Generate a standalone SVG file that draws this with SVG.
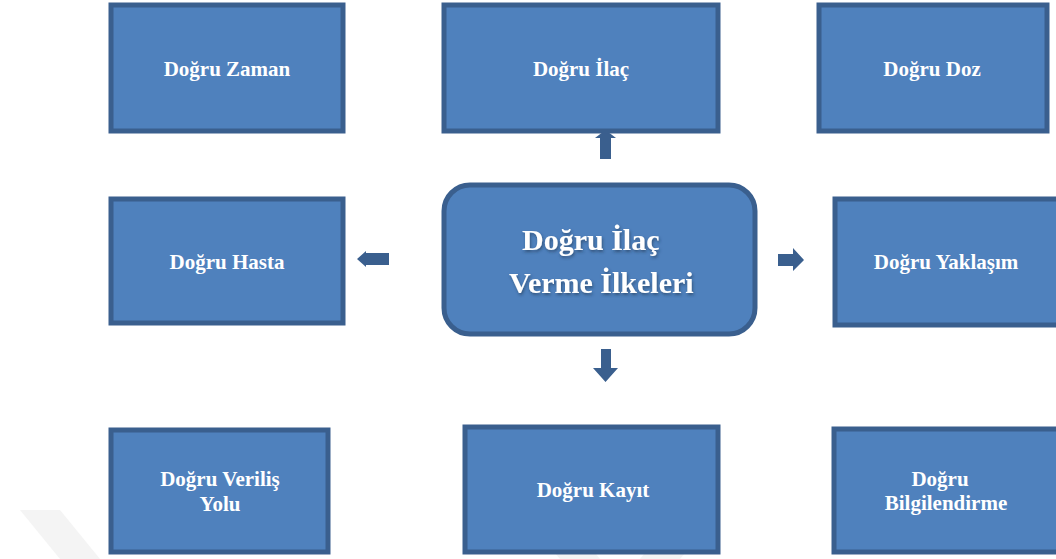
<svg xmlns="http://www.w3.org/2000/svg" width="1056" height="559" viewBox="0 0 1056 559">
<style>
.box{fill:#4F81BD;stroke:#3A5F8E;stroke-width:5}
.t{font-family:"Liberation Serif","Times New Roman",serif;font-weight:bold;font-size:21px;fill:#FFFFFF;text-anchor:middle}
.big{font-family:"Liberation Serif","Times New Roman",serif;font-weight:bold;font-size:30px;fill:#FFFFFF}
.arr{fill:#3A5F8E}
.wm{fill:#F4F4F4}
</style>
<defs>
<filter id="ts" x="-10%" y="-30%" width="120%" height="160%">
<feGaussianBlur in="SourceAlpha" stdDeviation="1.5"/>
<feOffset dx="1" dy="2" result="b"/>
<feFlood flood-color="#1f3550" flood-opacity="0.6"/>
<feComposite in2="b" operator="in"/>
<feMerge><feMergeNode/><feMergeNode in="SourceGraphic"/></feMerge>
</filter>
</defs>
<rect width="1056" height="559" fill="#FFFFFF"/>
<g id="watermark">
<polygon class="wm" points="20,510 60,510 100,559 60,559"/>
<polygon class="wm" points="520,510 560,510 600,559 560,559"/>
<polygon class="wm" points="640,559 680,510 720,510 680,559"/>
</g>
<g id="connectors">
<path class="arr" d="M600,159 L611,159 L611,138 L616,138 L605.5,130 L595,138 L600,138 Z"/>
<path class="arr" d="M601,349 L611,349 L611,368 L618,368 L605.5,382 L593,368 L601,368 Z"/>
<path class="arr" d="M389,253 L389,265 L366,265 L366,267 L357,259 L366,251 L366,253 Z"/>
<path class="arr" d="M778,254 L793,254 L793,248 L804,260 L793,271 L793,266 L778,266 Z"/>
</g>
<g id="n-zaman"><rect class="box" x="111" y="5" width="232" height="126"/><text class="t" x="227" y="76">Doğru Zaman</text></g>
<g id="n-ilac"><rect class="box" x="444" y="5" width="274" height="126"/><text class="t" x="581" y="76">Doğru İlaç</text></g>
<g id="n-doz"><rect class="box" x="819" y="5" width="228" height="126"/><text class="t" x="932" y="76">Doğru Doz</text></g>
<g id="n-hasta"><rect class="box" x="111" y="199" width="232" height="124"/><text class="t" x="227" y="269">Doğru Hasta</text></g>
<g id="n-center"><rect class="box" x="444" y="185" width="311" height="149" rx="26" ry="26"/>
<text class="big" x="522" y="250" filter="url(#ts)">Doğru İlaç</text>
<text class="big" x="509" y="293" filter="url(#ts)">Verme İlkeleri</text></g>
<g id="n-yaklasim"><rect class="box" x="835" y="199" width="224" height="126"/><text class="t" x="946" y="269">Doğru Yaklaşım</text></g>
<g id="n-yolu"><rect class="box" x="111" y="430" width="217" height="122"/><text class="t" x="220" y="486">Doğru Veriliş</text><text class="t" x="220" y="511">Yolu</text></g>
<g id="n-kayit"><rect class="box" x="465" y="427" width="253" height="125"/><text class="t" x="593" y="497">Doğru Kayıt</text></g>
<g id="n-bilgi"><rect class="box" x="834" y="429" width="225" height="123"/><text class="t" x="940" y="486">Doğru</text><text class="t" x="946" y="510">Bilgilendirme</text></g>
</svg>
